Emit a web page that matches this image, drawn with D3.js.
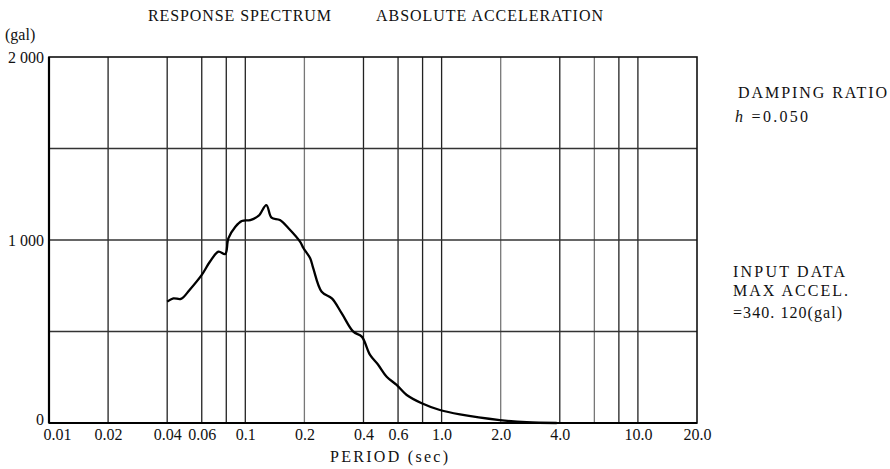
<html>
<head>
<meta charset="UTF-8">
<title>Response spectrum</title>
<style type="text/css">
    body { margin: 0; background-color: #ffffff; }
    svg { display: block; font-family: 'Liberation Serif', 'DejaVu Serif', serif; }
    .tick text { font-family: 'Liberation Serif', 'DejaVu Serif', serif; font-size: 16px; fill: #111; }
</style>
</head>
<body>
<svg id="chart" width="890" height="469"></svg>

<script src="https://cdn.jsdelivr.net/npm/d3@7/dist/d3.min.js"></script>
<script>
    // period (sec) and absolute acceleration (gal)
    var periods = [0.040, 0.043, 0.047, 0.052, 0.060, 0.066, 0.073, 0.079, 0.082, 0.089,
                   0.096, 0.106, 0.117, 0.128, 0.136, 0.150, 0.166, 0.190, 0.198, 0.214,
                   0.222, 0.245, 0.276, 0.310, 0.355, 0.392, 0.432, 0.476, 0.525, 0.590,
                   0.664, 0.792, 0.980, 1.24, 1.98, 2.71, 3.86];
    var accel = [663, 681, 678, 727, 809, 881, 936, 923, 1009, 1073,
                 1104, 1109, 1133, 1191, 1122, 1109, 1064, 991, 955, 900,
                 845, 717, 681, 599, 499, 472, 372, 317, 253, 208,
                 153, 108, 71, 47, 16, 4, 0];

    var gridX = [0.01, 0.02, 0.04, 0.06, 0.08, 0.1, 0.2, 0.4, 0.6, 0.8, 1, 2, 4, 6, 8, 10, 20];
    var xTickVals = [0.01, 0.02, 0.04, 0.06, 0.1, 0.2, 0.4, 0.6, 1, 2, 4, 10, 20];
    var xTickLabels = ["0.01", "0.02", "0.04", "0.06", "0.1", "0.2", "0.4", "0.6", "1.0", "2.0", "4.0", "10.0", "20.0"];
    var gridY = [500, 1000, 1500];
    var yTickVals = [0, 1000, 2000];
    var yTickLabels = ["0", "1 000", "2 000"];
    var fadedX = [0.2, 2, 6];

    var svg = d3.select("#chart");
    var mLeft = 49, mRight = 697, mTop = 57, mBottom = 423;

    var x = d3.scaleLog().domain([0.01, 20]).range([mLeft, mRight]);
    var y = d3.scaleLinear().domain([0, 2000]).range([mBottom, mTop]);

    // vertical grid
    svg.append("g").selectAll("line")
        .data(gridX.slice(1, -1))
        .enter().append("line")
        .attr("x1", function(d) { return x(d); })
        .attr("x2", function(d) { return x(d); })
        .attr("y1", mTop).attr("y2", mBottom)
        .attr("stroke", function(d) { return fadedX.indexOf(d) >= 0 ? "#777" : "#222"; })
        .attr("stroke-width", 1.3);

    // horizontal grid
    svg.append("g").selectAll("line")
        .data(gridY)
        .enter().append("line")
        .attr("x1", mLeft).attr("x2", mRight)
        .attr("y1", function(d) { return y(d); })
        .attr("y2", function(d) { return y(d); })
        .attr("stroke", "#333")
        .attr("stroke-width", 1.3);

    // frame
    svg.append("rect")
        .attr("x", mLeft).attr("y", mTop)
        .attr("width", mRight - mLeft).attr("height", mBottom - mTop)
        .attr("fill", "none").attr("stroke", "#111").attr("stroke-width", 1.6);
    svg.append("line").attr("x1", mLeft).attr("x2", mLeft).attr("y1", mTop).attr("y2", mBottom)
        .attr("stroke", "#000").attr("stroke-width", 2.2);
    svg.append("line").attr("x1", mLeft).attr("x2", mRight).attr("y1", mBottom).attr("y2", mBottom)
        .attr("stroke", "#000").attr("stroke-width", 2.2);

    // axes (labels only)
    var xAxis = d3.axisBottom(x)
        .tickValues(xTickVals)
        .tickSize(0)
        .tickPadding(4)
        .tickFormat(function(d, i) { return xTickLabels[i]; });
    var gx = svg.append("g").attr("transform", "translate(0," + mBottom + ")").call(xAxis);
    gx.select(".domain").remove();
    gx.selectAll("text").attr("dy", "0.8em");
    // first label sits right of the corner, clear of the "0"
    gx.selectAll(".tick").filter(function(d) { return d === 0.01; })
        .select("text").attr("dx", 8);

    var yAxis = d3.axisLeft(y)
        .tickValues(yTickVals)
        .tickSize(0)
        .tickPadding(5)
        .tickFormat(function(d, i) { return yTickLabels[i]; });
    var gy = svg.append("g").attr("transform", "translate(" + mLeft + ",0)").call(yAxis);
    gy.select(".domain").remove();
    gy.selectAll(".tick").filter(function(d) { return d === 0; })
        .select("text").attr("dy", "0.1em");

    // spectrum curve
    var line = d3.line()
        .x(function(d, i) { return x(periods[i]); })
        .y(function(d) { return y(d); })
        .curve(d3.curveCatmullRom.alpha(0.5));

    svg.append("path")
        .datum(accel)
        .attr("d", line)
        .attr("fill", "none")
        .attr("stroke", "#000")
        .attr("stroke-width", 2.3)
        .attr("stroke-linejoin", "round");

    // titles and notes
    var txt = svg.append("g").attr("font-size", 16).attr("fill", "#111");
    txt.append("text").attr("x", 148).attr("y", 21)
        .attr("textLength", 183).attr("lengthAdjust", "spacing")
        .text("RESPONSE SPECTRUM");
    txt.append("text").attr("x", 376).attr("y", 21)
        .attr("textLength", 227).attr("lengthAdjust", "spacing")
        .text("ABSOLUTE ACCELERATION");
    txt.append("text").attr("x", 5).attr("y", 40).text("(gal)");
    txt.append("text").attr("x", 330).attr("y", 462)
        .attr("textLength", 118).attr("lengthAdjust", "spacing")
        .text("PERIOD (sec)");

    txt.append("text").attr("x", 738).attr("y", 98)
        .attr("textLength", 149).attr("lengthAdjust", "spacing")
        .text("DAMPING RATIO");
    var h = txt.append("text").attr("x", 735).attr("y", 122)
        .attr("textLength", 73).attr("lengthAdjust", "spacing");
    h.append("tspan").attr("font-style", "italic").text("h");
    h.append("tspan").text(" =0.050");

    txt.append("text").attr("x", 733).attr("y", 277)
        .attr("textLength", 112).attr("lengthAdjust", "spacing")
        .text("INPUT DATA");
    txt.append("text").attr("x", 733).attr("y", 296)
        .attr("textLength", 115).attr("lengthAdjust", "spacing")
        .text("MAX ACCEL.");
    txt.append("text").attr("x", 733).attr("y", 318)
        .attr("textLength", 109).attr("lengthAdjust", "spacing")
        .text("=340. 120(gal)");
</script>
</body>
</html>
